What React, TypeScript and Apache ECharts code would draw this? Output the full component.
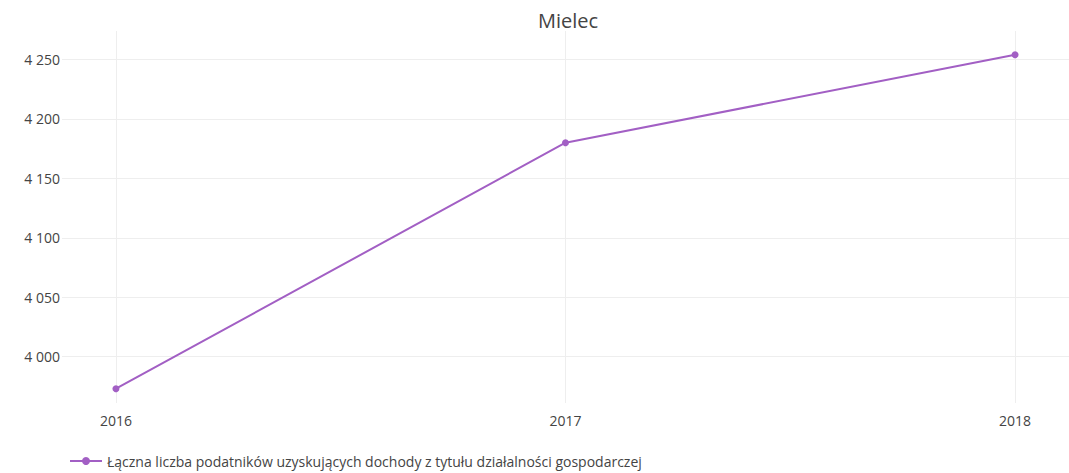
import React, { useEffect, useRef } from "react";
import * as echarts from "echarts";

const title = "Mielec";
const seriesName = "Łączna liczba podatników uzyskujących dochody z tytułu działalności gospodarczej";
const years = [2016, 2017, 2018];
const values = [3973, 4180, 4254];
const yTicks = [4000, 4050, 4100, 4150, 4200, 4250];

const fmt = (v: number) => {
  const s = String(Math.round(v));
  return s.replace(/\B(?=(\d{3})+(?!\d))/g, " ");
};

export default function App() {
  const ref = useRef<HTMLDivElement>(null);
  useEffect(() => {
    if (!ref.current) return;
    const chart = echarts.init(ref.current, undefined, { renderer: "svg" });
    const font = '"Open Sans", verdana, arial, sans-serif';
    chart.setOption({
      animation: false,
      textStyle: { fontFamily: font },
      title: {
        text: title,
        left: 533,
        top: 5,
        textStyle: { fontFamily: font, fontSize: 20, fontWeight: "normal", color: "#444" },
      },
      grid: { left: 62, right: 0, top: 31, bottom: 70, containLabel: false },
      legend: {
        left: 64,
        top: 451,
        padding: [3, 5, 3, 5],
        itemWidth: 32,
        itemHeight: 10,
        itemGap: 10,
        textStyle: { fontFamily: font, fontSize: 14, color: "#444" },
        data: [seriesName],
      },
      xAxis: {
        type: "value",
        min: 2016 - 0.12,
        max: 2018 + 0.12,
        axisLine: { show: false },
        axisTick: { show: false, customValues: years },
        axisLabel: {
          customValues: years,
          color: "#444",
          fontSize: 14,
          fontFamily: font,
          margin: 10,
          formatter: (v: number) => String(v),
        },
        splitLine: { show: true, lineStyle: { color: "#eeeeee", width: 1 } },
      },
      yAxis: {
        type: "value",
        min: 3961,
        max: 4274,
        axisLine: { show: false },
        axisTick: { show: false, customValues: yTicks },
        axisLabel: {
          customValues: yTicks,
          color: "#444",
          fontSize: 14,
          fontFamily: font,
          margin: 2,
          formatter: (v: number) => fmt(v),
        },
        splitLine: { show: true, lineStyle: { color: "#eeeeee", width: 1 } },
      },
      series: [
        {
          name: seriesName,
          type: "line",
          data: years.map((y, i) => [y, values[i]]),
          symbol: "circle",
          symbolSize: 7,
          lineStyle: { color: "#a25fc4", width: 2 },
          itemStyle: { color: "#a25fc4" },
        },
      ],
    });
    return () => chart.dispose();
  }, []);
  return (
    <div
      ref={ref}
      style={{ position: "fixed", left: 0, top: 0, width: 1069, height: 473, background: "#fff" }}
    />
  );
}
